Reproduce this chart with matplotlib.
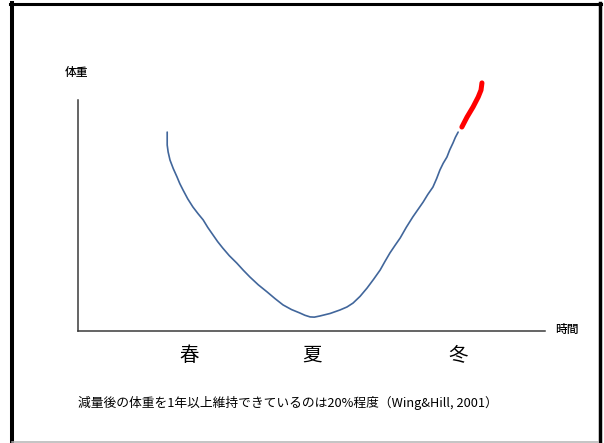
import matplotlib.pyplot as plt
from matplotlib.lines import Line2D

plt.rcParams['font.family'] = ['Noto Sans CJK JP', 'DejaVu Sans']

# 体重の推移（時間 0-100, 体重 0-100 の相対値）
time_blue = [19.1, 19.1, 19.3, 19.7, 20.4, 21.2, 21.8, 22.5, 23.5, 24.6, 25.7, 26.8,
             27.8, 28.9, 29.9, 31.0, 32.4, 34.0, 35.4, 36.8, 38.6, 40.5, 42.2, 43.9,
             45.7, 47.5, 48.6, 49.7, 50.6, 51.8, 54.0, 56.1, 57.6, 58.9, 60.4, 61.9,
             63.3, 64.7, 65.7, 66.8, 67.9, 69.0, 70.3, 71.7, 72.8, 73.9, 74.9, 76.0,
             76.8, 77.5, 78.2, 79.0, 79.6, 80.3, 80.8, 81.4]
weight_blue = [86.1, 80.5, 77.5, 74.0, 70.3, 66.7, 63.8, 61.0, 57.2, 53.7, 50.8, 48.1,
               44.8, 41.6, 38.7, 35.9, 32.6, 29.4, 26.3, 23.4, 20.0, 16.9, 14.0, 11.3,
               9.3, 7.8, 6.8, 6.1, 6.0, 6.5, 7.6, 9.1, 10.4, 12.1, 15.0, 18.6,
               22.4, 26.4, 30.0, 33.8, 37.1, 40.3, 44.9, 49.4, 52.6, 55.8, 59.1, 62.3,
               66.0, 69.7, 72.6, 75.3, 78.4, 81.4, 83.8, 86.1]
# リバウンド部分
time_red = [82.2, 83.3, 84.6, 85.7, 86.3, 86.5]
weight_red = [88.3, 92.6, 97.0, 101.3, 104.3, 107.4]

season_labels = ['春', '夏', '冬']
season_x = [23.8, 50.1, 81.4]

W, H = 604, 443
fig = plt.figure(figsize=(W / 100, H / 100), dpi=100)
ax = fig.add_axes([78 / W, (H - 331) / H, 467 / W, 231 / H])
ax.set_xlim(0, 100)
ax.set_ylim(0, 100)

ax.plot(time_blue, weight_blue, color='#41669b', lw=1.2,
        solid_capstyle='round', solid_joinstyle='round')
ax.plot(time_red, weight_red, color='#ff0000', lw=3.6,
        solid_capstyle='round', solid_joinstyle='round', clip_on=False)

for s in ['top', 'right']:
    ax.spines[s].set_visible(False)
for s in ['left', 'bottom']:
    ax.spines[s].set_color('#3a3a3a')
    ax.spines[s].set_linewidth(1.1)
ax.set_xticks([])
ax.set_yticks([])

# 軸ラベル
ax.text(-0.4, 112, '体重', ha='center', va='center', fontsize=8.5, fontweight='medium')
ax.text(102.2, 0.5, '時間', ha='left', va='center', fontsize=8.5, fontweight='medium')

for lab, x in zip(season_labels, season_x):
    ax.text(x, -10.5, lab, ha='center', va='center', fontsize=14)

fig.text(288 / W, 1 - 403 / H,
         '減量後の体重を1年以上維持できているのは20%程度（Wing&Hill, 2001）',
         ha='center', va='center', fontsize=9.2)

# スライドの枠
fig.add_artist(Line2D([12 / W, 12 / W], [0, 1 - 3 / H], color='black', lw=2.9))
fig.add_artist(Line2D([10 / W, 601 / W], [1 - 4 / H, 1 - 4 / H], color='black', lw=2.2))
fig.add_artist(Line2D([599.5 / W, 599.5 / W], [0, 1 - 3 / H], color='black', lw=2.5))
fig.add_artist(Line2D([12 / W, 598 / W], [1 - 442 / H, 1 - 442 / H], color='#b4b4b4', lw=1.1))

plt.savefig('out.png', dpi=100)
